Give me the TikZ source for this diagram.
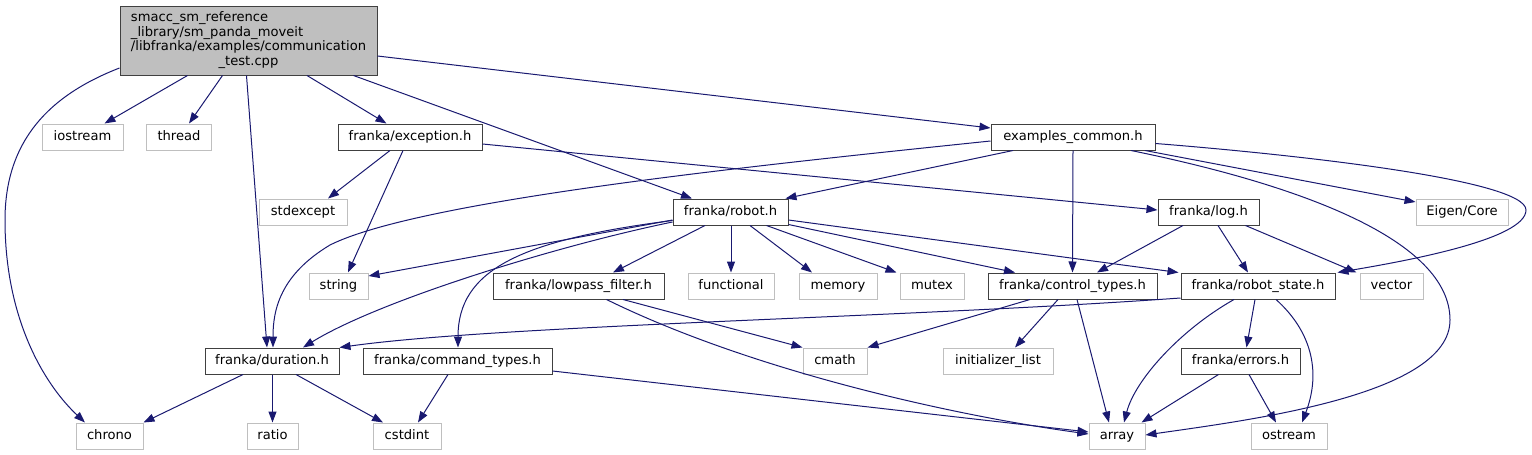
\documentclass[tikz,border=0pt]{standalone}
\usepackage{fontspec}
\setmainfont{DejaVu Sans}
\usepackage{xcolor}
\usepackage{tikz}
\usetikzlibrary{arrows.meta}
\definecolor{edgeblue}{RGB}{25,25,112}
\definecolor{boxgray}{RGB}{191,191,191}
\definecolor{boxline}{RGB}{64,64,64}
\tikzset{
  srcfile/.style={draw=boxline, fill=boxgray, line width=1pt, inner sep=0pt, minimum width=257pt, minimum height=69pt, font=\fontsize{13.1}{14.8}\selectfont},
  hdr/.style={draw=boxline, fill=white, line width=1pt, inner sep=0pt, minimum height=26pt, text height=10pt, text depth=3pt, font=\fontsize{13.1}{15}\selectfont},
  syshdr/.style={draw=boxgray, fill=white, line width=1pt, inner sep=0pt, minimum height=26pt, text height=10pt, text depth=3pt, font=\fontsize{13.1}{15}\selectfont},
  dep/.style={-{Triangle[length=11pt, width=8pt]}, edgeblue, line width=1pt}
}

\begin{document}
\begin{tikzpicture}[x=1pt,y=-1pt]
  \useasboundingbox (0,0) rectangle (1532,455);

  \node[srcfile] (main) at (248.5,40.5) {\begin{tabular}{@{}l@{}}smacc\_sm\_reference\\\_library/sm\_panda\_moveit\\/libfranka/examples/communication\\\multicolumn{1}{@{}c@{}}{\_test.cpp}\end{tabular}};

  \node[syshdr, minimum width=81pt] (iostream) at (82.5,137) {iostream};
  \node[syshdr, minimum width=65pt] (thread) at (179,137) {thread};
  \node[hdr, minimum width=144pt] (exception) at (410,137) {franka/exception.h};
  \node[hdr, minimum width=164pt] (common) at (1073,137) {examples\_common.h};

  \node[syshdr, minimum width=88pt] (stdexcept) at (303,212) {stdexcept};
  \node[hdr, minimum width=115pt] (robot) at (730.5,212) {franka/robot.h};
  \node[hdr, minimum width=101pt] (logh) at (1208.5,212) {franka/log.h};
  \node[syshdr, minimum width=92pt] (eigen) at (1462,212) {Eigen/Core};

  \node[syshdr, minimum width=59pt] (string) at (338.5,286) {string};
  \node[hdr, minimum width=171pt] (lowpass) at (578.5,286) {franka/lowpass\_filter.h};
  \node[syshdr, minimum width=86pt] (functional) at (731,286) {functional};
  \node[syshdr, minimum width=78pt] (memory) at (838,286) {memory};
  \node[syshdr, minimum width=64pt] (mutex) at (932,286) {mutex};
  \node[hdr, minimum width=169pt] (control) at (1072.5,286) {franka/control\_types.h};
  \node[hdr, minimum width=154pt] (rstate) at (1258,286) {franka/robot\_state.h};
  \node[syshdr, minimum width=63pt] (vector) at (1391.5,286) {vector};

  \node[hdr, minimum width=134pt] (duration) at (272,361) {franka/duration.h};
  \node[hdr, minimum width=189pt] (command) at (457.5,361) {franka/command\_types.h};
  \node[syshdr, minimum width=64pt] (cmath) at (835,361) {cmath};
  \node[syshdr, minimum width=110pt] (initlist) at (998,361) {initializer\_list};
  \node[hdr, minimum width=119pt] (errors) at (1240.5,361) {franka/errors.h};

  \node[syshdr, minimum width=67pt] (chrono) at (109.5,436) {chrono};
  \node[syshdr, minimum width=51pt] (ratio) at (272.5,436) {ratio};
  \node[syshdr, minimum width=68pt] (cstdint) at (407,436) {cstdint};
  \node[syshdr, minimum width=56pt] (array) at (1117,436) {array};
  \node[syshdr, minimum width=76pt] (ostream) at (1289,436) {ostream};

  \draw[dep] ([xshift=-61]main.south) -- ([xshift=22]iostream.north);
  \draw[dep] ([xshift=-26]main.south) -- ([xshift=10]thread.north);
  \draw[dep] ([xshift=-2]main.south) -- ([xshift=-5]duration.north);
  \draw[dep] ([yshift=-27.5]main.west) .. controls (50,95) and (5,140) .. (5,220)
    .. controls (5,320) and (45,385) .. ([xshift=-24.5]chrono.north);
  \draw[dep] ([xshift=58.5]main.south) -- ([xshift=-23.5]exception.north);
  \draw[dep] ([xshift=105]main.south) -- ([xshift=-38.5]robot.north);
  \draw[dep] ([yshift=-15.5]main.east) -- ([yshift=9]common.west);

  \draw[dep] ([xshift=-20]exception.south) -- ([xshift=25]stdexcept.north);
  \draw[dep] ([xshift=-7]exception.south) -- ([xshift=9.5]string.north);
  \draw[dep] ([yshift=-7]exception.east) -- ([yshift=2]logh.west);

  \draw[dep] ([yshift=-4]common.west) .. controls (760,165) and (420,200) .. (330,245)
    .. controls (280,275) and (273,310) .. ([xshift=1]duration.north);
  \draw[dep] ([xshift=-60]common.south) -- ([xshift=-3]robot.north east);
  \draw[dep] (common.south) -- (control.north);
  \draw[dep] ([xshift=58]common.south) .. controls (1300,185) and (1450,240) .. (1450,320)
    .. controls (1450,395) and (1250,420) .. ([yshift=1]array.east);
  \draw[dep] ([xshift=72]common.south) -- ([yshift=10]eigen.west);
  \draw[dep] ([yshift=-6.5]common.east) .. controls (1300,155) and (1526,180) .. (1526,210)
    .. controls (1526,240) and (1400,262) .. ([xshift=2]rstate.north east);

  \draw[dep] ([yshift=-8]robot.west) -- ([yshift=10]string.east);
  \draw[dep] ([yshift=-10]robot.west) .. controls (560,245) and (380,300) .. ([xshift=31]duration.north);
  \draw[dep] ([yshift=-8.5]robot.west) .. controls (520,240) and (458,270) .. ([xshift=0.5]command.north);
  \draw[dep] ([xshift=-25.5]robot.south) -- ([xshift=34.5]lowpass.north);
  \draw[dep] ([xshift=0.5]robot.south) -- (functional.north);
  \draw[dep] ([xshift=19.5]robot.south) -- ([xshift=-26]memory.north);
  \draw[dep] ([xshift=36]robot.south) -- ([xshift=-3]mutex.north west);
  \draw[dep] ([yshift=1]robot.south east) -- ([xshift=-57.5]control.north);
  \draw[dep] ([yshift=-8]robot.east) -- ([xshift=-2]rstate.north west);

  \draw[dep] ([xshift=-25.5]logh.south) -- ([xshift=24.5]control.north);
  \draw[dep] ([xshift=9.5]logh.south) -- ([xshift=-10]rstate.north);
  \draw[dep] ([xshift=37]logh.south) -- ([xshift=-3]vector.north west);

  \draw[dep] ([xshift=44.5]lowpass.south) -- (cmath.north west);
  \draw[dep] ([xshift=28]lowpass.south) .. controls (750,370) and (950,415) .. ([yshift=2]array.west);
  \draw[dep] ([xshift=-42.5]control.south) -- (cmath.north east);
  \draw[dep] ([xshift=-14.5]control.south) -- ([xshift=17]initlist.north);
  \draw[dep] ([xshift=4.5]control.south) -- ([xshift=-8]array.north);

  \draw[dep] ([yshift=1.5]rstate.south west) .. controls (900,318) and (500,325) .. (duration.north east);
  \draw[dep] ([xshift=-24]rstate.south) .. controls (1180,330) and (1135,380) .. ([xshift=7]array.north);
  \draw[dep] ([xshift=-3]rstate.south) -- ([xshift=6]errors.north);
  \draw[dep] ([xshift=18]rstate.south) .. controls (1310,330) and (1322,370) .. ([xshift=13]ostream.north);
  \draw[dep] ([xshift=-22]errors.south) -- ([xshift=-4]array.north east);
  \draw[dep] ([xshift=8.5]errors.south) -- ([xshift=-13]ostream.north);

  \draw[dep] ([xshift=-29]duration.south) -- (chrono.north east);
  \draw[dep] ([xshift=0.5]duration.south) -- (ratio.north);
  \draw[dep] ([xshift=24]duration.south) -- ([xshift=-24]cstdint.north);
  \draw[dep] ([xshift=-9.5]command.south) -- ([xshift=11]cstdint.north);
  \draw[dep] ([yshift=-10]command.east) -- ([yshift=4]array.west);
\end{tikzpicture}
\end{document}
